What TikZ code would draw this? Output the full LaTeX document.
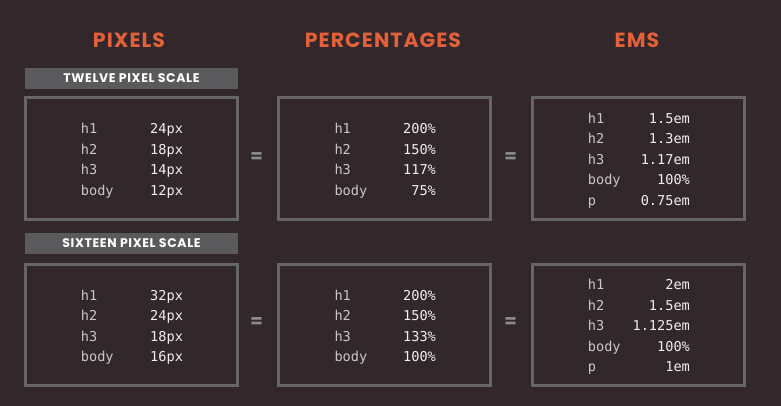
\documentclass[tikz,border=0pt]{standalone}
\usepackage{fontspec}
\usepackage{array}
\setsansfont{Poppins}
\setmonofont{DejaVu Sans Mono}
\definecolor{sfondo}{HTML}{32272B}
\definecolor{arancio}{HTML}{E2603A}
\definecolor{bordo}{HTML}{666666}
\definecolor{barra}{HTML}{5A5A5C}
\definecolor{etich}{HTML}{C8C8C8}
\definecolor{valore}{HTML}{F0F0F0}
\definecolor{grigiouguale}{HTML}{8C8C8C}
\begin{document}
\begin{tikzpicture}[x=1pt, y=-1pt,
    titolo/.style={text=arancio, anchor=base, inner sep=0pt, font=\sffamily\bfseries\fontsize{20.5}{20.5}\selectfont\addfontfeature{LetterSpace=5}},
    scala/.style={fill=barra, text=white, minimum width=213pt, minimum height=21pt, inner sep=0pt, font=\sffamily\bfseries\fontsize{12.5}{12.5}\selectfont\addfontfeature{LetterSpace=5}},
    riquadro/.style={draw=bordo, line width=3pt, minimum width=212pt, minimum height=121pt, inner sep=0pt},
    tabella/.style={anchor=base west, inner sep=0pt, font=\ttfamily\fontsize{13.6}{20.5}\selectfont},
    uguale/.style={text=grigiouguale, inner sep=0pt, font=\sffamily\bfseries\fontsize{18}{18}\selectfont}]
        % Sfondo
        \fill[sfondo] (0,0) rectangle (781,406);
        \useasboundingbox (0,0) rectangle (781,406);

        % Titoli delle colonne
        \node[titolo] (tPixels) at (129,48) {PIXELS};
        \node[titolo] (tPerc) at (383,48) {PERCENTAGES};
        \node[titolo] (tEms) at (637,48) {EMS};

        % Scala a dodici pixel
        \node[scala] (sDodici) at (131.5,78.5) {TWELVE PIXEL SCALE};
        \node[riquadro] (pxA) at (131.5,158.5) {};
        \node[riquadro] (percA) at (384.5,158.5) {};
        \node[riquadro] (emA) at (638.5,158.5) {};
        \node[uguale] (eqA1) at (256.7,157.5) {=};
        \node[uguale] (eqA2) at (510.7,157.5) {=};

        \node[tabella] (pxAtab) at (80.7,134) {\begin{tabular}[t]{@{}>{\color{etich}}w{l}{69.3pt}@{}>{\color{valore}}l@{}}
            h1 & 24px\\ h2 & 18px\\ h3 & 14px\\ body & 12px\end{tabular}};
        \node[tabella] (percAtab) at (334.3,134) {\begin{tabular}[t]{@{}>{\color{etich}}w{l}{60pt}@{}>{\color{valore}}w{r}{41.4pt}@{}}
            h1 & 200\%\\ h2 & 150\%\\ h3 & 117\%\\ body & 75\%\end{tabular}};
        \node[tabella] (emAtab) at (587.7,123.3) {\begin{tabular}[t]{@{}>{\color{etich}}w{l}{50pt}@{}>{\color{valore}}w{r}{52pt}@{}}
            h1 & 1.5em\\ h2 & 1.3em\\ h3 & 1.17em\\ body & 100\%\\ p & 0.75em\end{tabular}};

        % Scala a sedici pixel
        \node[scala] (sSedici) at (131.5,243.5) {SIXTEEN PIXEL SCALE};
        \node[riquadro] (pxB) at (131.5,324.5) {};
        \node[riquadro] (percB) at (384.5,324.5) {};
        \node[riquadro] (emB) at (638.5,324.5) {};
        \node[uguale] (eqB1) at (256.7,322.5) {=};
        \node[uguale] (eqB2) at (510.7,322.5) {=};

        \node[tabella] (pxBtab) at (80.7,300) {\begin{tabular}[t]{@{}>{\color{etich}}w{l}{69.3pt}@{}>{\color{valore}}l@{}}
            h1 & 32px\\ h2 & 24px\\ h3 & 18px\\ body & 16px\end{tabular}};
        \node[tabella] (percBtab) at (334.3,300) {\begin{tabular}[t]{@{}>{\color{etich}}w{l}{60pt}@{}>{\color{valore}}w{r}{41.4pt}@{}}
            h1 & 200\%\\ h2 & 150\%\\ h3 & 133\%\\ body & 100\%\end{tabular}};
        \node[tabella] (emBtab) at (587.7,289.5) {\begin{tabular}[t]{@{}>{\color{etich}}w{l}{50pt}@{}>{\color{valore}}w{r}{52pt}@{}}
            h1 & 2em\\ h2 & 1.5em\\ h3 & 1.125em\\ body & 100\%\\ p & 1em\end{tabular}};
    \end{tikzpicture}
\end{document}
